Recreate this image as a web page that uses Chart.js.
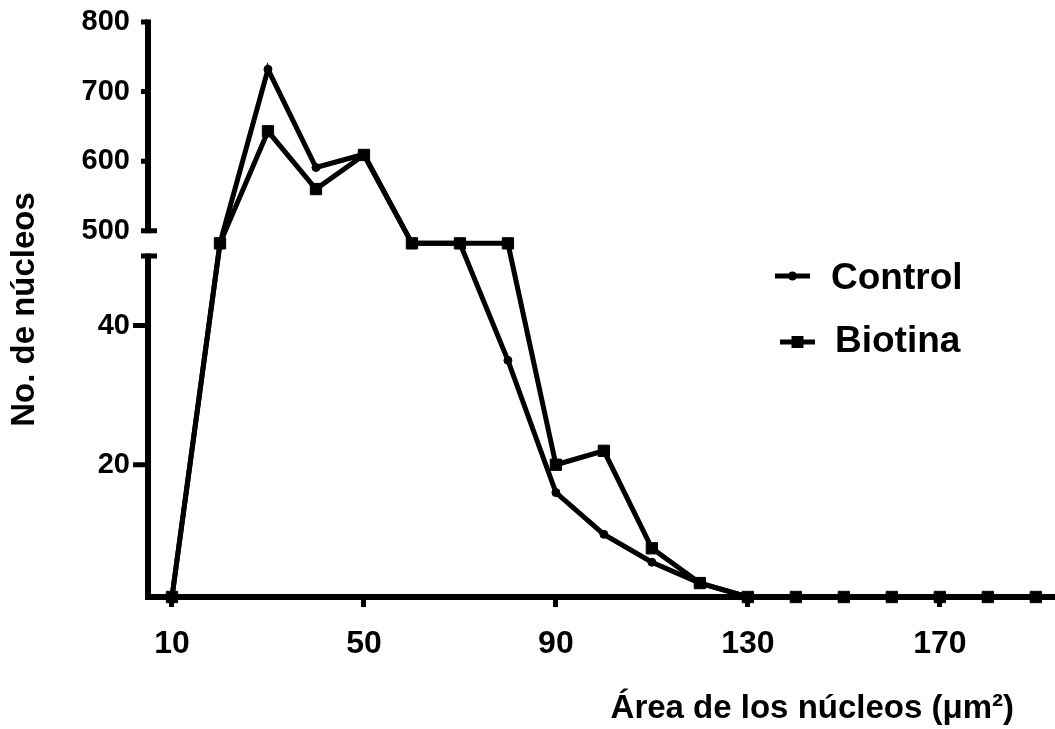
<!DOCTYPE html>
<html>
<head>
<meta charset="utf-8">
<title>Área de los núcleos</title>
<script src="https://cdn.jsdelivr.net/npm/chart.js@4.4.1/dist/chart.umd.min.js"></script>
<style>
  html, body { margin: 0; padding: 0; background: #fff; }
  #wrap { width: 1055px; height: 729px; position: relative; }
</style>
</head>
<body>
<div id="wrap"><canvas id="areaChart"></canvas></div>
<script>
// Data
const areaBins = [10, 20, 30, 40, 50, 60, 70, 80, 90, 100, 110, 120, 130, 140, 150, 160, 170, 180, 190];
const controlCounts = [0, 275, 732, 591, 610, 275, 275, 35, 16, 10, 6, 3, 0, 0, 0, 0, 0, 0, 0];
const biotinaCounts = [0, 275, 643, 560, 609, 275, 275, 275, 20, 22, 8, 3, 0, 0, 0, 0, 0, 0, 0];
const xTickValues = [10, 50, 90, 130, 170];
const yTickValues = [20, 40, 500, 600, 700, 800];

// Broken y axis: 1-50 below the break, 500-800 above it
const LOWER_MIN = 1, LOWER_MAX = 50, UPPER_MIN = 500, UPPER_MAX = 800;
const GAP = 3.6, UPPER_SCALE = 0.1;

function toAxis(v) {
  if (v <= LOWER_MIN) return LOWER_MIN; // sits on the axis, as in the original
  if (v <= LOWER_MAX) return v;
  if (v < UPPER_MIN) return LOWER_MAX + (v - LOWER_MAX) / (UPPER_MIN - LOWER_MAX) * GAP;
  return LOWER_MAX + GAP + (v - UPPER_MIN) * UPPER_SCALE;
}

const FONT = '"Liberation Sans", Arial, Helvetica, sans-serif';

// Draws the y axis in two pieces with the break
const brokenAxis = {
  id: 'brokenAxis',
  beforeDatasetsDraw(chart) {
    const { ctx, chartArea, scales: { y } } = chart;
    const x0 = chartArea.left;
    const yTop = y.getPixelForValue(toAxis(UPPER_MAX));
    const yBreakHi = y.getPixelForValue(toAxis(UPPER_MIN));
    const yBreakLo = y.getPixelForValue(toAxis(LOWER_MAX));
    ctx.save();
    ctx.strokeStyle = '#000';
    ctx.lineCap = 'butt';
    ctx.lineWidth = 6;
    ctx.beginPath();
    ctx.moveTo(x0, yTop - 2.5);
    ctx.lineTo(x0, yBreakHi + 2.5);
    ctx.moveTo(x0, yBreakLo - 2.5);
    ctx.lineTo(x0, chartArea.bottom + 3);
    ctx.stroke();

    ctx.lineWidth = 5;
    ctx.beginPath();
    [yBreakHi, yBreakLo].forEach(py => {
      ctx.moveTo(x0 - 7, py);
      ctx.lineTo(x0 + 9, py);
    });
    yTickValues.forEach(v => {
      const py = y.getPixelForValue(toAxis(v));
      const len = v < UPPER_MIN ? 15 : 7;
      ctx.moveTo(x0 - len, py);
      ctx.lineTo(x0, py);
    });
    ctx.stroke();
    ctx.restore();
  }
};

// Legend and x title
const annotations = {
  id: 'annotations',
  afterDraw(chart) {
    const { ctx } = chart;
    const rows = [
      { ds: 0, x1: 775, x2: 810, y: 276, tx: 831, ty: 289 },
      { ds: 1, x1: 780, x2: 815, y: 342, tx: 835, ty: 352 }
    ];
    ctx.save();
    ctx.fillStyle = '#000';
    ctx.strokeStyle = '#000';
    rows.forEach(r => {
      const ds = chart.data.datasets[r.ds];
      ctx.lineWidth = 5;
      ctx.beginPath();
      ctx.moveTo(r.x1, r.y);
      ctx.lineTo(r.x2, r.y);
      ctx.stroke();
      const cx = (r.x1 + r.x2) / 2;
      if (ds.pointStyle === 'rect') {
        ctx.fillRect(cx - 6, r.y - 6, 12, 12);
      } else {
        ctx.beginPath();
        ctx.arc(cx, r.y, 4.5, 0, Math.PI * 2);
        ctx.fill();
      }
      ctx.font = 'bold 37px ' + FONT;
      ctx.textAlign = 'left';
      ctx.textBaseline = 'alphabetic';
      ctx.fillText(ds.label, r.tx, r.ty);
    });

    ctx.font = 'bold 33px ' + FONT;
    ctx.textAlign = 'right';
    ctx.textBaseline = 'alphabetic';
    ctx.fillText('Área de los núcleos (μm²)', 1014, 718);
    ctx.restore();
  }
};

const ctx = document.getElementById('areaChart').getContext('2d');

new Chart(ctx, {
  type: 'line',
  data: {
    datasets: [
      {
        label: 'Control',
        data: areaBins.map((a, i) => ({ x: a, y: toAxis(controlCounts[i]) })),
        borderColor: '#000',
        backgroundColor: '#000',
        borderWidth: 5,
        pointStyle: 'circle',
        pointRadius: 4,
        pointBorderWidth: 1,
        tension: 0,
        clip: false
      },
      {
        label: 'Biotina',
        data: areaBins.map((a, i) => ({ x: a, y: toAxis(biotinaCounts[i]) })),
        borderColor: '#000',
        backgroundColor: '#000',
        borderWidth: 5,
        pointStyle: 'rect',
        pointRadius: 8,
        pointBorderWidth: 1,
        tension: 0,
        clip: false
      }
    ]
  },
  options: {
    responsive: true,
    maintainAspectRatio: false,
    animation: false,
    layout: { autoPadding: false, padding: { top: 22, left: 0, right: 0, bottom: 0 } },
    plugins: {
      legend: { display: false },
      tooltip: { enabled: false }
    },
    scales: {
      x: {
        type: 'linear',
        min: 5,
        max: 194,
        afterBuildTicks: scale => { scale.ticks = xTickValues.map(v => ({ value: v })); },
        afterFit: scale => {
          scale.height = 132;
          scale.paddingLeft = 0;
          scale.paddingRight = 0;
        },
        grid: {
          display: true,
          drawOnChartArea: false,
          drawTicks: true,
          tickLength: 10,
          tickWidth: 5,
          tickColor: '#000'
        },
        border: { display: true, color: '#000', width: 6 },
        ticks: {
          color: '#000',
          padding: 18,
          maxRotation: 0,
          font: { family: FONT, size: 32, weight: 'bold' }
        }
      },
      y: {
        type: 'linear',
        min: LOWER_MIN,
        max: toAxis(UPPER_MAX),
        afterBuildTicks: scale => { scale.ticks = yTickValues.map(v => ({ value: toAxis(v) })); },
        afterFit: scale => {
          scale.width = 148;
          scale.paddingTop = 0;
          scale.paddingBottom = 0;
        },
        grid: { display: false, drawTicks: false },
        border: { display: false },
        ticks: {
          color: '#000',
          padding: 18,
          font: { family: FONT, size: 29, weight: 'bold' },
          callback: (value, index) => yTickValues[index]
        },
        title: {
          display: true,
          text: 'No. de núcleos',
          color: '#000',
          padding: { top: 5, bottom: 0 },
          font: { family: FONT, size: 33, weight: 'bold' }
        }
      }
    }
  },
  plugins: [brokenAxis, annotations]
});
</script>
</body>
</html>
